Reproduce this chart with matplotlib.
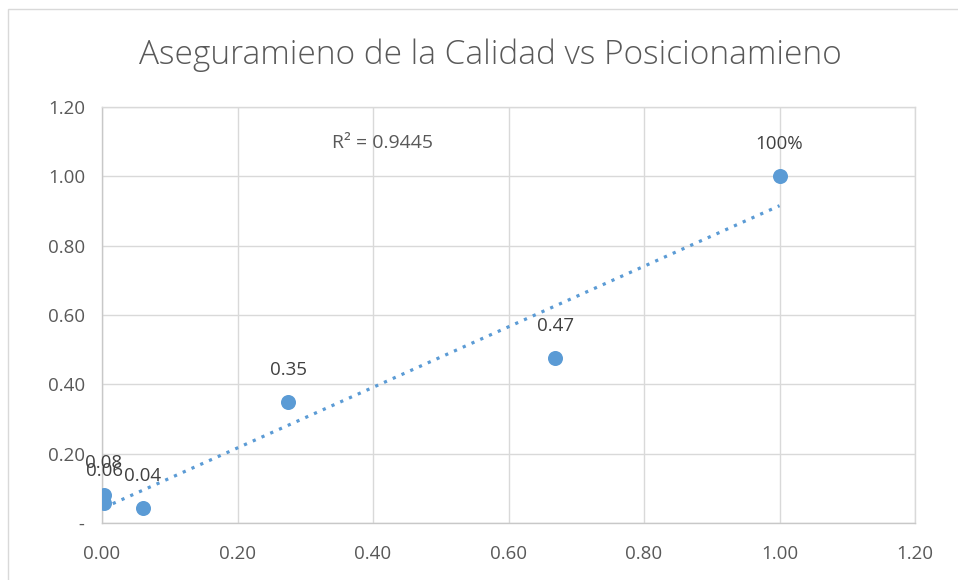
import numpy as np
import matplotlib
matplotlib.use("Agg")
import matplotlib.pyplot as plt
from matplotlib.patches import Rectangle
from matplotlib.ticker import FuncFormatter

x_vals = [0.003, 0.003, 0.060, 0.275, 0.669, 1.000]
y_vals = [0.080, 0.058, 0.043, 0.350, 0.476, 1.000]
point_labels = ["0.08", "0.06", "0.04", "0.35", "0.47", "100%"]
title = "Aseguramieno de la Calidad vs Posicionamieno"
r2_text = "R² = 0.9445"
ticks = [0.0, 0.2, 0.4, 0.6, 0.8, 1.0, 1.2]

text_col = "#595959"
label_col = "#404040"
grid_col = "#d9d9d9"
blue = "#5b9bd5"
font = "Open Sans"

fig = plt.figure(figsize=(9.58, 5.80), dpi=100)
fig.patches.append(Rectangle((8/958, -0.01), 1.0, 1 - 9/580 + 0.01, transform=fig.transFigure,
                             fill=False, edgecolor="#d9d9d9", linewidth=1.0))
ax = fig.add_axes([102/958, 57/580, 813/958, 416/580])

ax.set_xlim(0, 1.2)
ax.set_ylim(0, 1.2)
ax.set_xticks(ticks)
ax.set_yticks(ticks)
ax.xaxis.set_major_formatter(FuncFormatter(lambda v, p: f"{v:.2f}"))
ax.yaxis.set_major_formatter(FuncFormatter(lambda v, p: " -" if abs(v) < 1e-9 else f"{v:.2f}"))
ax.grid(True, color=grid_col, linewidth=1.0)
ax.set_axisbelow(True)
for s in ["top", "right", "left", "bottom"]:
    ax.spines[s].set_color(grid_col)
    ax.spines[s].set_linewidth(1.0)
ax.spines["left"].set_color("#c8c8c8")
ax.spines["bottom"].set_color("#c8c8c8")
ax.tick_params(length=0, labelcolor=text_col, labelsize=13.5)
ax.tick_params(axis="x", pad=16)
ax.tick_params(axis="y", pad=12)
for lab in ax.get_xticklabels() + ax.get_yticklabels():
    lab.set_fontfamily(font)

# trendline
xa = np.array(x_vals); ya = np.array(y_vals)
m, b = np.polyfit(xa, ya, 1)
xt = np.array([xa.min(), xa.max()])
ax.plot(xt, m * xt + b, linestyle=(0, (1, 2.0)), color=blue, linewidth=2.3, zorder=2)

ax.scatter(x_vals, y_vals, s=117, color=blue, zorder=3, linewidths=0)

for xv, yv, lab in zip(x_vals, y_vals, point_labels):
    ax.annotate(lab, (xv, yv), xytext=(0, 23), textcoords="offset points", ha="center", va="center",
                fontsize=13.5, color=label_col, fontfamily=font)

fig.text(382/958, 1 - 143/580, r2_text, ha="center", va="center",
         fontsize=14, color=text_col, fontfamily=font)

fig.text(490/958, 1 - 55/580, title, ha="center", va="center", fontsize=24, color=text_col,
         fontfamily=font, fontweight="light")

fig.savefig("out.png", dpi=100)
